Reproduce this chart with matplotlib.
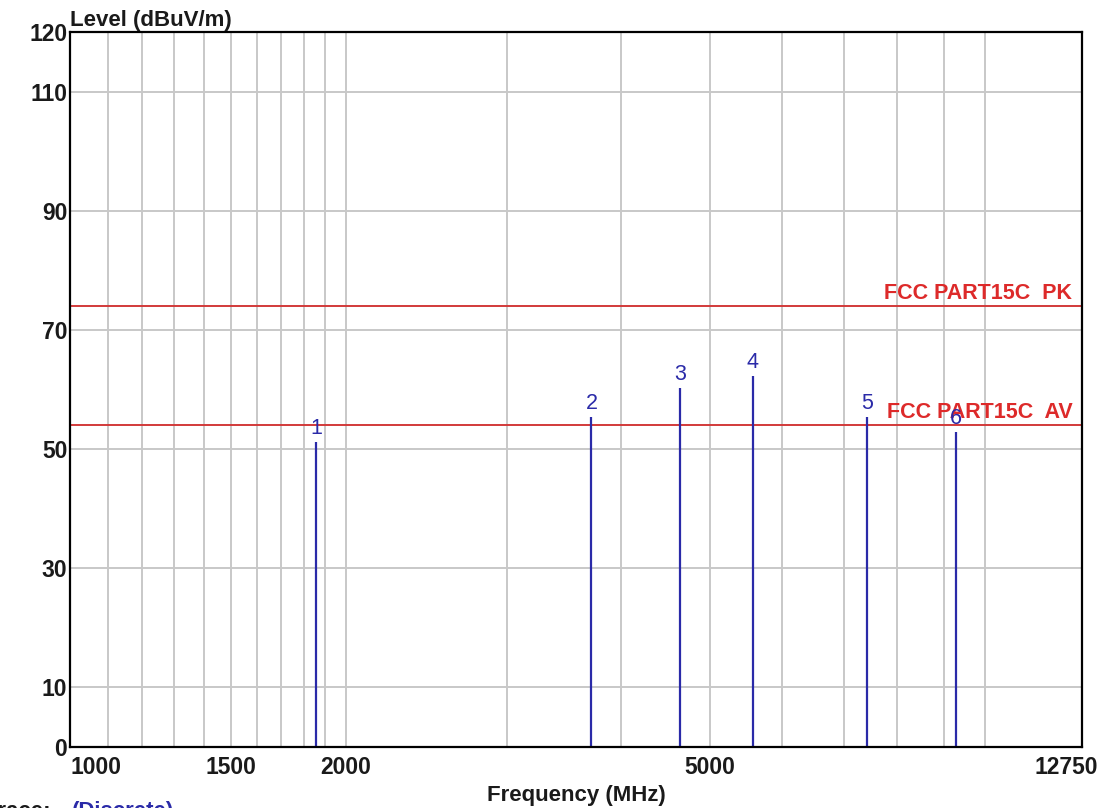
import numpy as np
import matplotlib
matplotlib.use("Agg")
import matplotlib.pyplot as plt
from matplotlib.transforms import ScaledTranslation

# datos
freqs = [1856, 3712, 4640, 5568, 7424, 9280]          # MHz
levels = [51.2, 55.4, 60.2, 62.2, 55.4, 52.8]         # dBuV/m
marker_ids = ["1", "2", "3", "4", "5", "6"]

limit_names = ["FCC PART15C  PK", "FCC PART15C  AV"]
limit_values = [74, 54]

xtick_vals = [1000, 1500, 2000, 5000, 12750]
xtick_labels = ["1000", "1500", "2000", "5000", "12750"]
ytick_vals = [0, 10, 30, 50, 70, 90, 110, 120]
xgrid_vals = list(range(1100, 2000, 100)) + list(range(2000, 11000, 1000))
ygrid_vals = [10, 30, 50, 70, 90, 110]

BLUE = "#2a2aa8"
RED = "#d23a3a"
GRID = "#c8c8c8"

plt.rcParams["font.family"] = ["Liberation Sans", "DejaVu Sans"]

fig = plt.figure(figsize=(11.07, 8.08), dpi=100)
ax = fig.add_axes([70 / 1107, 61.3 / 808, 1012 / 1107, 714.4 / 808])

ax.set_xscale("log")
ax.set_xlim(1000, 12750)
ax.set_ylim(0, 120)

for xv in xgrid_vals:
    ax.axvline(xv, color=GRID, lw=1.4, zorder=1)
for yv in ygrid_vals:
    ax.axhline(yv, color=GRID, lw=1.4, zorder=1)

# lineas limite
for name, val in zip(limit_names, limit_values):
    ax.axhline(val, color=RED, lw=1.4, zorder=2)
    ax.annotate(name, xy=(1, val), xycoords=("axes fraction", "data"),
                xytext=(-7, 5), textcoords="offset points",
                ha="right", va="baseline", color="#dd2a2a",
                fontsize=15.5, fontweight="bold",
                family=["Liberation Sans Narrow", "DejaVu Sans Condensed", "Liberation Sans"],
                zorder=4)

# marcadores discretos
ax.vlines(freqs, 0, levels, color=BLUE, lw=1.6, zorder=3)
for f, lv, mid in zip(freqs, levels, marker_ids):
    ax.annotate(mid, xy=(f, lv), xytext=(0, 6), textcoords="offset points",
                ha="center", va="baseline", color=BLUE, fontsize=15.5, zorder=5)

ax.minorticks_off()
ax.set_xticks(xtick_vals)
ax.set_xticklabels(xtick_labels)
ax.set_yticks(ytick_vals)
ax.set_yticklabels([str(v) for v in ytick_vals])
ax.tick_params(axis="both", length=0, labelsize=16.5, colors="#1a1a1a")
ax.tick_params(axis="x", pad=7)
ax.tick_params(axis="y", pad=2)
for lab in ax.get_xticklabels() + ax.get_yticklabels():
    lab.set_fontweight("bold")
xl = ax.get_xticklabels()
xl[0].set_horizontalalignment("left")
xl[-1].set_transform(xl[-1].get_transform() + ScaledTranslation(-0.16, 0, fig.dpi_scale_trans))

for sp in ax.spines.values():
    sp.set_linewidth(1.6)
    sp.set_color("black")
    sp.set_zorder(6)

fig.text(70 / 1107, (808 - 26) / 808, "Level (dBuV/m)", fontsize=16,
         fontweight="bold", va="baseline", ha="left", color="#1a1a1a")
fig.text(576 / 1107, 6.5 / 808, "Frequency (MHz)", fontsize=16,
         fontweight="bold", va="baseline", ha="center", color="#1a1a1a")
fig.text(-14 / 1107, -9 / 808, "Trace:", fontsize=16, fontweight="bold",
         va="baseline", ha="left", color="#1a1a1a")
fig.text(72 / 1107, -9 / 808, "(Discrete)", fontsize=16, fontweight="bold",
         va="baseline", ha="left", color=BLUE)

fig.savefig("out.png", dpi=100)
